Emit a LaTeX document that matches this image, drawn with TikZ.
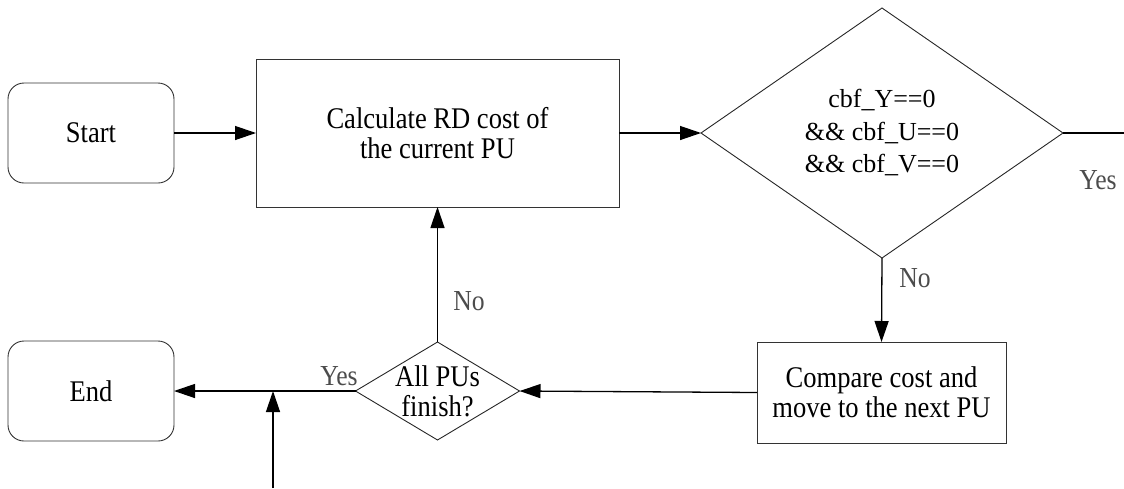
\documentclass[tikz,border=0pt]{standalone}
\usepackage{fontspec}
\setmainfont{Liberation Serif}
\newfontfamily\condfont{Liberation Serif}[FakeStretch=0.885]
\usetikzlibrary{shapes.geometric,arrows.meta}
\begin{document}
\begin{tikzpicture}[x=1pt,y=-1pt,
  every node/.style={outer sep=0pt, inner sep=0pt},
  maintext/.style={font=\condfont\fontsize{30}{30}\selectfont, align=center},
  termbox/.style={draw=black!80, line width=0.9pt, rounded corners=16pt,
    minimum width=166pt, minimum height=100pt, maintext},
  procbox/.style={draw=black!80, line width=0.9pt, maintext},
  decision/.style={draw=black!85, line width=0.9pt, diamond},
  flow/.style={line width=1.3pt, -{Triangle[length=21pt,width=14pt]}},
  plain/.style={line width=1.3pt},
  answer/.style={font=\condfont\fontsize{29}{29}\selectfont, text=black!70}
]
\useasboundingbox (0,0) rectangle (1124,488);

% terminal blocks
\node[termbox] (start) at (91,133) {Start};
\node[termbox] (stop)  at (91,391) {End};

% processing blocks
\node[procbox, minimum width=363pt, minimum height=148pt] (calc) at (437.5,133)
  {Calculate RD cost of\\the current PU};
\node[procbox, minimum width=249pt, minimum height=101pt] (cmp) at (881.5,392.5)
  {Compare cost and\\move to the next PU};

% decisions
\node[decision, minimum width=362pt, minimum height=250pt,
  label={[font=\fontsize{26}{32.5}\selectfont, align=center]center:cbf\_Y==0\\\&\& cbf\_U==0\\\&\& cbf\_V==0}]
  (cbf) at (882,133) {};
\node[decision, minimum width=164pt, minimum height=98pt,
  label={[maintext]center:All PUs\\finish?}]
  (allpu) at (437.5,391) {};

% free ends
\coordinate (yesout) at (1124,133);
\coordinate (merge) at (273,391);
\coordinate (feed) at (273,488);

% connectors
\draw[flow] (start.east) -- (calc.west);
\draw[flow] (calc.east) -- (cbf.west);
\draw[plain] (cbf.east) -- (yesout);
\draw[flow] (cbf.south) -- (cmp.north);
\draw[flow] (cmp.west) -- (allpu.east);
\draw[flow] (allpu.west) -- (stop.east);
\draw[flow] (allpu.north) -- (calc.south);
\draw[flow] (feed) -- (merge);

% branch labels
\node[answer] (yesa) at (1098,180) {Yes};
\node[answer] (noa)  at (915,278) {No};
\node[answer] (nob)  at (469,301) {No};
\node[answer] (yesb) at (339,376) {Yes};
\end{tikzpicture}
\end{document}
